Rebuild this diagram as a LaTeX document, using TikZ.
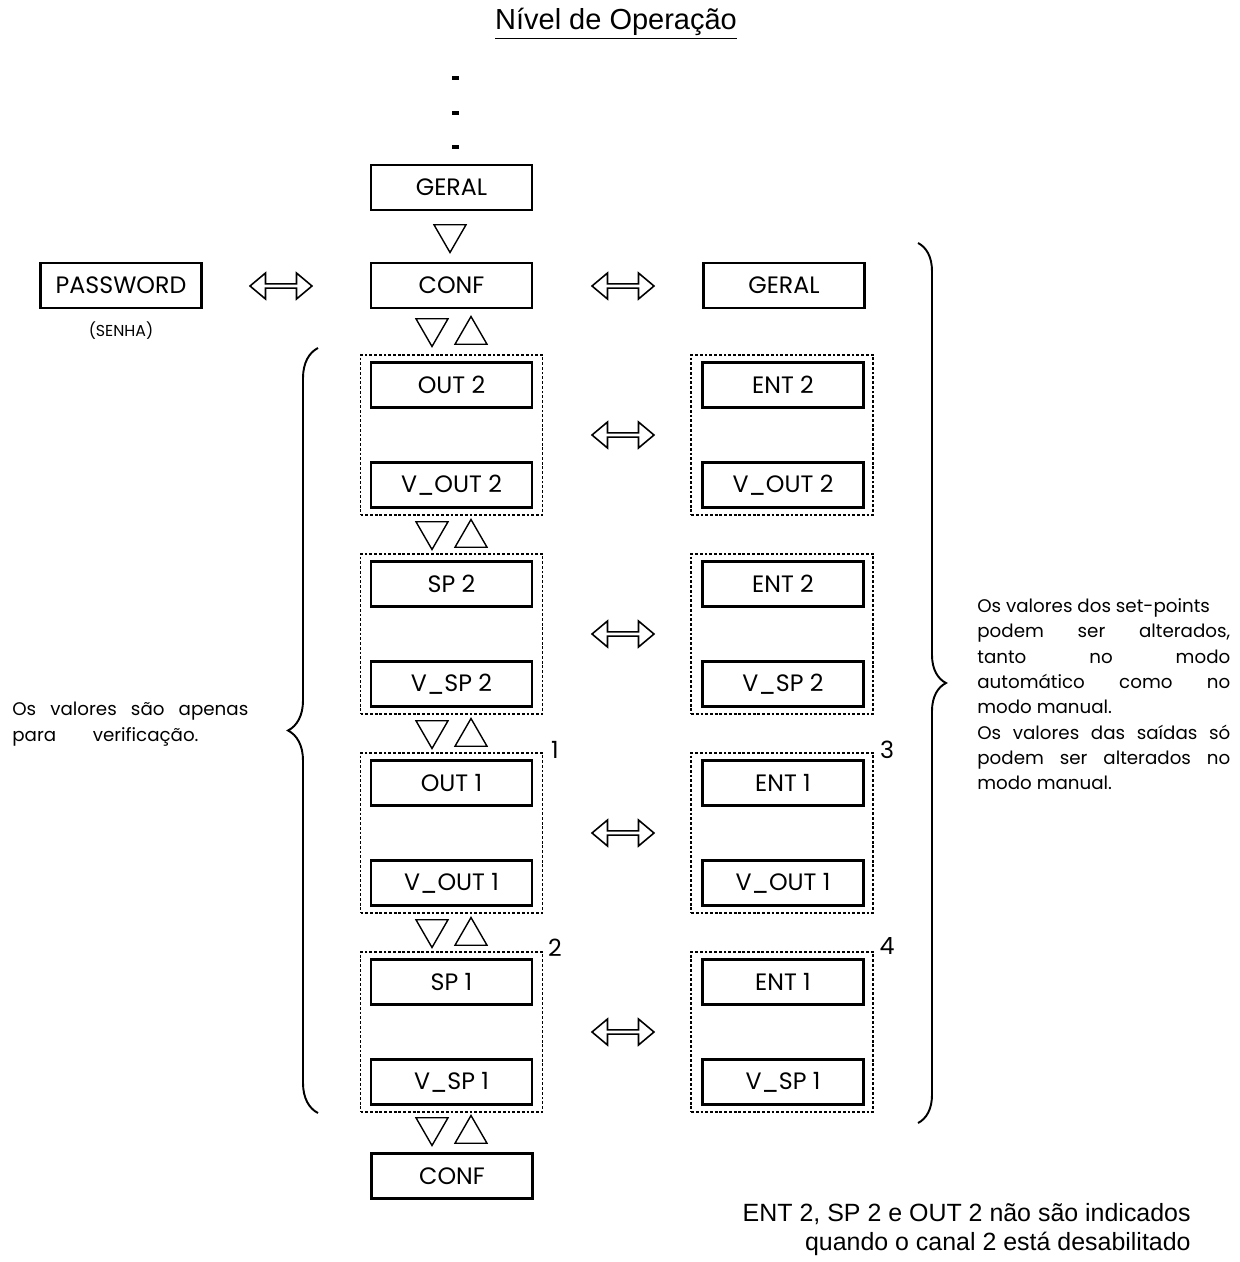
\documentclass[tikz,border=0pt]{standalone}
\usepackage{fontspec}
\setmainfont{Poppins}
\newfontfamily\arialfont{Liberation Sans}
\usepackage{tikz}
\usetikzlibrary{positioning}
\usetikzlibrary{shapes.geometric}
\usetikzlibrary{shapes.arrows}
\usetikzlibrary{decorations.pathreplacing}

\begin{document}
\begin{tikzpicture}[
		x=0.02cm, y=-0.02cm,
		menu/.style={draw, line width=1.2pt, minimum width=3.22cm, minimum height=0.9cm, inner sep=0pt, font=\fontsize{13.5}{15}\selectfont},
		grupo/.style={draw, line width=1pt, dash pattern=on 1.6pt off 1.1pt, minimum width=3.64cm, minimum height=3.2cm, inner sep=0pt},
		desce/.style={draw, line width=0.8pt, regular polygon, regular polygon sides=3, shape border rotate=180, minimum size=0.74cm, inner sep=0pt},
		sobe/.style={draw, line width=0.8pt, regular polygon, regular polygon sides=3, minimum size=0.74cm, inner sep=0pt},
		dup/.style={draw, line width=0.9pt, double arrow, double arrow head extend=0.08cm, double arrow tip angle=80, minimum width=0.52cm, minimum height=1.24cm, inner sep=0pt},
		nota/.style={font=\fontsize{10.4}{14.45}\selectfont, inner sep=0pt, align=justify, anchor=north west},
		chave/.style={decorate, decoration={brace, amplitude=0.6cm}, line width=1.1pt},
		marca/.style={font=\fontsize{13.5}{15}\selectfont, inner sep=0pt}
		]
		\useasboundingbox (0,0) rectangle (1240,1262);
		\node[font=\arialfont\fontsize{16.5}{19}\selectfont, inner sep=0pt] (titulo) at (616,24) {\underline{Nível de Operação}};
		% reticencias acima do menu
		\foreach \y in {78,113,147}
			\fill (452,\y-2) rectangle (459,\y+2);
		\node[menu] (geral) at (451.5,187.5) {GERAL};
		\node[desce] (t0) at (450,234) {};
		\node[menu] (conf) at (451.5,285.5) {CONF};
		\node[menu] (pass) at (121,285.5) {PASSWORD};
		\node[font=\fontsize{9}{10}\selectfont] (senha) at (121,331) {(SENHA)};
		\node[menu] (geral2) at (784,285.5) {GERAL};
		\node[dup] (a0) at (281,286) {};
		\node[dup] (b0) at (623,286) {};
		% grupos pontilhados
		\foreach \i/\yc/\a/\b/\c/\d in {1/435/OUT 2/V\_OUT 2/ENT 2/V\_OUT 2, 2/634/SP 2/V\_SP 2/ENT 2/V\_SP 2, 3/833/OUT 1/V\_OUT 1/ENT 1/V\_OUT 1, 4/1032/SP 1/V\_SP 1/ENT 1/V\_SP 1} {
			\node[grupo] (g\i) at (451.5,\yc) {};
			\node[menu] (e\i) at (451.5,\yc-50) {\a};
			\node[menu] (ev\i) at (451.5,\yc+50) {\b};
			\node[grupo] (h\i) at (782,\yc) {};
			\node[menu] (d\i) at (783,\yc-50) {\c};
			\node[menu] (dv\i) at (783,\yc+50) {\d};
			\node[dup] (b\i) at (623,\yc) {};
		}
		% setas de navegacao
		\foreach \r/\ty in {0/331, 1/534, 2/733, 3/932, 4/1130} {
			\node[desce] (v\r) at (432,\ty-3) {};
			\node[sobe] (u\r) at (471,\ty+4) {};
		}
		\node[menu] (conf2) at (452,1176) {CONF};
		\node[marca] (n1) at (555,750) {1};
		\node[marca] (n2) at (555,948) {2};
		\node[marca] (n3) at (887,750) {3};
		\node[marca] (n4) at (887,946) {4};
		\draw[chave] (318,1113) -- (318,348);
		\draw[chave, decoration={brace, amplitude=0.56cm}] (918,243) -- (918,1123);
		\node[nota, text width=4.72cm] (esq) at (12,702) {Os valores são apenas\linebreak para\hspace{2em}verificação.};
		\node[nota, text width=5.06cm] (dir) at (977,598) {Os valores dos set-points\newline podem ser alterados,\linebreak tanto no modo\linebreak automático como no\linebreak modo manual.\newline Os valores das saídas só\linebreak podem ser alterados no\linebreak modo manual.};
		\node[font=\arialfont\fontsize{14.2}{16.5}\selectfont, align=right, anchor=north east, inner sep=0pt] (rodape) at (1191,1203) {ENT 2, SP 2 e OUT 2 não são indicados\\quando o canal 2 está desabilitado};
	\end{tikzpicture}
\end{document}
